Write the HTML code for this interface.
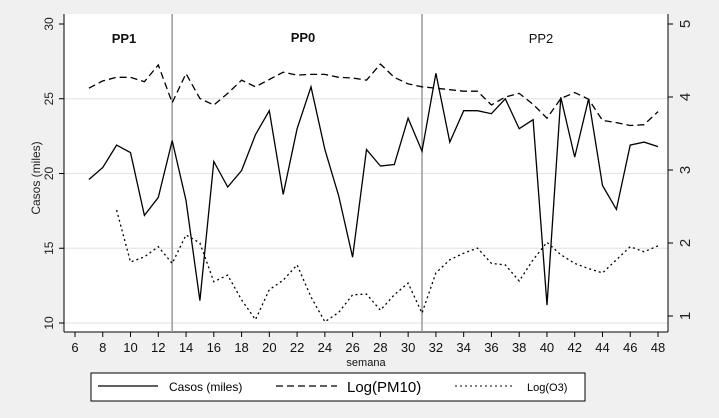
<!DOCTYPE html>
<html><head><meta charset="utf-8"><style>
html,body{margin:0;padding:0;background:#f0f0f0;}
svg{display:block;font-family:"Liberation Sans",Arial,sans-serif;}
</style></head><body>
<svg id="chart" width="719" height="418" viewBox="0 0 719 418" xmlns="http://www.w3.org/2000/svg">
<rect x="0" y="0" width="719" height="418" fill="#f0f0f0"/>
<rect x="64" y="14" width="604" height="318" fill="#ffffff"/>
<g id="grid"></g>
<g id="axes"></g>
<g id="series"></g>
<text transform="translate(40,178) rotate(-90)" text-anchor="middle" font-size="12" fill="#222">Casos (miles)</text>
<text x="366" y="366" text-anchor="middle" font-size="11" fill="#111">semana</text>
<text x="124" y="43" text-anchor="middle" font-size="13" font-weight="bold" fill="#111">PP1</text>
<text x="303" y="42" text-anchor="middle" font-size="13" font-weight="bold" fill="#111">PP0</text>
<text x="541" y="43" text-anchor="middle" font-size="13" fill="#111">PP2</text>
<g>
<rect x="91" y="373" width="494" height="28" fill="#fff" stroke="#000" stroke-width="1"/>
<line x1="98" y1="386" x2="158" y2="386" stroke="#000" stroke-width="1.2"/>
<text x="169" y="391" font-size="12">Casos (miles)</text>
<line x1="276" y1="386" x2="337" y2="386" stroke="#000" stroke-width="1.2" stroke-dasharray="7,4"/>
<text x="347" y="392" font-size="15">Log(PM10)</text>
<line x1="455" y1="386" x2="513" y2="386" stroke="#000" stroke-width="1" stroke-dasharray="2,3"/>
<text x="527" y="391" font-size="11">Log(O3)</text>
</g>
</svg>
<script>
const weeks = [7,8,9,10,11,12,13,14,15,16,17,18,19,20,21,22,23,24,25,26,27,28,29,30,31,32,33,34,35,36,37,38,39,40,41,42,43,44,45,46,47,48];
const casos = [19.6,20.4,21.9,21.4,17.2,18.4,22.2,18.2,11.5,20.8,19.1,20.2,22.6,24.2,18.6,23.0,25.8,21.6,18.5,14.4,21.6,20.5,20.6,23.7,21.5,26.7,22.1,24.2,24.2,24.0,25.0,23.0,23.6,11.2,25.1,21.1,25.0,19.2,17.6,21.9,22.1,21.8];
const pm10 = [4.12,4.22,4.27,4.27,4.21,4.44,3.92,4.32,3.98,3.89,4.05,4.23,4.14,4.24,4.34,4.30,4.31,4.31,4.27,4.26,4.23,4.45,4.27,4.18,4.14,4.12,4.10,4.08,4.08,3.89,4.0,4.05,3.9,3.71,3.98,4.06,3.97,3.68,3.65,3.61,3.62,3.80];
const o3Weeks = [9,10,11,12,13,14,15,16,17,18,19,20,21,22,23,24,25,26,27,28,29,30,31,32,33,34,35,36,37,38,39,40,41,42,43,44,45,46,47,48];
const o3 = [2.45,1.74,1.81,1.95,1.72,2.11,2.0,1.47,1.56,1.22,0.95,1.36,1.49,1.70,1.26,0.92,1.05,1.29,1.30,1.08,1.29,1.45,1.04,1.59,1.77,1.86,1.93,1.72,1.70,1.48,1.77,2.01,1.84,1.72,1.65,1.59,1.77,1.95,1.88,1.96];
const xTicks = [6,8,10,12,14,16,18,20,22,24,26,28,30,32,34,36,38,40,42,44,46,48];
const yLeftTicks = [10,15,20,25,30];
const yRightTicks = [1,2,3,4,5];
const periodBreaks = [13,31];

const NS="http://www.w3.org/2000/svg";
const X = w => 75 + (w-6)*(658-75)/42;
const YL = v => 323 - (v-10)*(323-24)/20;
const YR = v => 316 - (v-1)*(316-24)/4;
function mk(tag, attrs, parent){const e=document.createElementNS(NS,tag);for(const k in attrs)e.setAttribute(k,attrs[k]);parent.appendChild(e);return e;}
const grid=document.getElementById('grid'), axes=document.getElementById('axes'), series=document.getElementById('series');

yLeftTicks.forEach(v=>{
  if(v<30){const g=mk('line',{x1:64,x2:668,y1:YL(v),y2:YL(v),stroke:'#e6e6e6','stroke-width':1.2},grid);
  
  }
  const t=mk('line',{x1:59,x2:64,y1:YL(v),y2:YL(v),stroke:'#000'},axes);
  
  
  const l=mk('text',{transform:`translate(53,${YL(v)}) rotate(-90)`,'text-anchor':'middle','font-size':12,fill:'#222'},axes);
  l.textContent=v;
  
  
});
yRightTicks.forEach(v=>{
  const t=mk('line',{x1:668,x2:673,y1:YR(v),y2:YR(v),stroke:'#000'},axes);
  
  
  const l=mk('text',{transform:`translate(690,${YR(v)}) rotate(-90)`,'text-anchor':'middle','font-size':15,fill:'#222'},axes);
  l.textContent=v;
  
  
});
xTicks.forEach(v=>{
  const t=mk('line',{x1:X(v),x2:X(v),y1:332,y2:337,stroke:'#000'},axes);
  
  
  const l=mk('text',{x:X(v),y:352,'text-anchor':'middle','font-size':13,fill:'#111'},axes);
  l.textContent=v;
  
  
});
const al=mk('line',{x1:64,x2:64,y1:14,y2:332,stroke:'#000'},axes);


const ar=mk('line',{x1:668,x2:668,y1:14,y2:332,stroke:'#000'},axes);


const ab=mk('line',{x1:64,x2:668,y1:332,y2:332,stroke:'#000'},axes);



periodBreaks.forEach(w=>{
  const l=mk('line',{x1:X(w),x2:X(w),y1:14,y2:332,stroke:'#999','stroke-width':1.5},series);
  
  
});
function path(xs, ys, fy, dash, name){
  const d=xs.map((w,i)=>(i?'L':'M')+X(w).toFixed(1)+','+fy(ys[i]).toFixed(1)).join(' ');
  const p=mk('path',{d:d,fill:'none',stroke:'#000','stroke-width':1.3,'stroke-linejoin':'miter'},series);
  if(dash)p.setAttribute('stroke-dasharray',dash);
  
  
}
path(weeks,pm10,YR,'7,4','line-log-pm10');
path(o3Weeks,o3,YR,'2,3','line-log-o3');
path(weeks,casos,YL,null,'line-casos');
</script>
</body></html>
